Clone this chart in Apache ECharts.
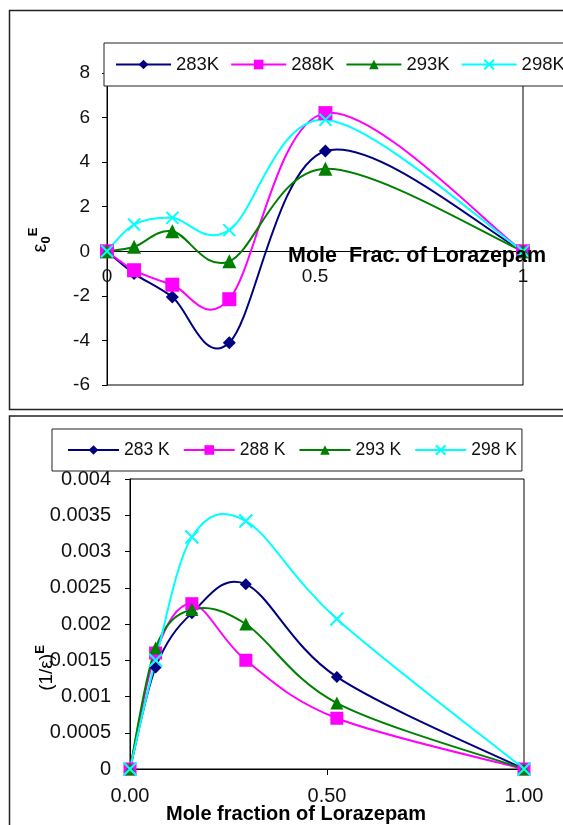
<!DOCTYPE html>
<html><head><meta charset="utf-8">
<script src="https://cdn.jsdelivr.net/npm/echarts@6/dist/echarts.min.js"></script>
<style>html,body{margin:0;padding:0;background:#fff}#c{width:563px;height:825px}</style>
</head><body><div id="c"></div>
<script>
// ---- data ----
const moleFrac = [0, 0.065, 0.157, 0.294, 0.525, 1];
const namesTop = ['283K', '288K', '293K', '298K'];
const namesBottom = ['283 K', '288 K', '293 K', '298 K'];
// top panel: excess permittivity
const eps283 = [0, -1.0, -2.05, -4.1, 4.5, 0];
const eps288 = [0, -0.85, -1.5, -2.15, 6.2, 0];
const eps293 = [0, 0.2, 0.9, -0.45, 3.7, 0];
const eps298 = [0, 1.2, 1.5, 0.95, 5.9, 0];
// bottom panel: excess inverse permittivity
const inv283 = [0, 0.0014, 0.00215, 0.00255, 0.00127, 0];
const inv288 = [0, 0.0016, 0.00228, 0.0015, 0.0007, 0];
const inv293 = [0, 0.00167, 0.0022, 0.002, 0.00091, 0];
const inv298 = [0, 0.0015, 0.0032, 0.00342, 0.00207, 0];
// tick labels
const xTickValues = [0, 0.5, 1];
const xTickLabelsTop = ['0', '0.5', '1'];
const xTickLabelsBottom = ['0.00', '0.50', '1.00'];

const FONT = "'Liberation Sans', Arial, sans-serif";
const styles = [
  {color: '#000080', symbol: 'diamond', sTop: 13, sBot: 12},
  {color: '#FF00FF', symbol: 'rect', sTop: 14, sBot: 13},
  {color: '#008000', symbol: 'triangle', sTop: 14, sBot: 13},
  {color: '#00FFFF', symbol: 'path://M0,0L10,10M10,0L0,10', sTop: 12, sBot: 13, cross: true}
];
const topVals = [eps283, eps288, eps293, eps298];
const botVals = [inv283, inv288, inv293, inv298];

// markers (line itself drawn by the smoothed curve series below)
function mkMarkers(name, vals, st, idx, size) {
  return {
    name: name, type: 'line', xAxisIndex: idx, yAxisIndex: idx, z: 3,
    data: moleFrac.map((x, i) => [x, vals[i]]),
    symbol: st.symbol, symbolSize: size,
    lineStyle: {color: st.color, width: 0},
    itemStyle: {color: st.color, borderColor: st.color, borderWidth: st.cross ? 2 : 0},
    emphasis: {disabled: true}, animation: false
  };
}
// spreadsheet-style smoothed curve through the data, mapped with api.coord
function mkCurve(name, vals, st, idx) {
  const pts = moleFrac.map((x, i) => [x, vals[i]]);
  return {
    name: name + ' curve', type: 'custom', xAxisIndex: idx, yAxisIndex: idx, z: 2,
    data: pts, encode: {x: 0, y: 1}, animation: false, silent: true,
    renderItem: function (params, api) {
      if (params.dataIndex !== 0) return null;
      const P = pts.map(p => api.coord(p));
      const n = P.length;
      let d = 'M' + P[0][0] + ' ' + P[0][1];
      for (let i = 0; i < n - 1; i++) {
        const p0 = P[Math.max(i - 1, 0)], p1 = P[i], p2 = P[i + 1], p3 = P[Math.min(i + 2, n - 1)];
        const c1 = [p1[0] + (p2[0] - p0[0]) / 6, p1[1] + (p2[1] - p0[1]) / 6];
        const c2 = [p2[0] - (p3[0] - p1[0]) / 6, p2[1] - (p3[1] - p1[1]) / 6];
        d += ' C' + c1[0] + ' ' + c1[1] + ' ' + c2[0] + ' ' + c2[1] + ' ' + p2[0] + ' ' + p2[1];
      }
      return {type: 'path', shape: {pathData: d}, style: {fill: 'none', stroke: st.color, lineWidth: 2}};
    }
  };
}
const series = [];
styles.forEach((st, k) => series.push(mkCurve(namesTop[k], topVals[k], st, 0)));
styles.forEach((st, k) => series.push(mkCurve(namesBottom[k], botVals[k], st, 1)));
styles.forEach((st, k) => series.push(mkMarkers(namesTop[k], topVals[k], st, 0, st.sTop)));
styles.forEach((st, k) => series.push(mkMarkers(namesBottom[k], botVals[k], st, 1, st.sBot)));

function tickFmt(labels) {
  return v => { const i = xTickValues.findIndex(t => Math.abs(t - v) < 1e-9); return i >= 0 ? labels[i] : String(v); };
}

const topGrid = {left: 107, top: 73, width: 416, height: 312};
const yTopMin = -6, yTopMax = 8;
const zeroOffset = -(topGrid.height * (0 - yTopMin) / (yTopMax - yTopMin));

const option = {
  animation: false,
  backgroundColor: '#fff',
  grid: [
    Object.assign({show: true, borderColor: '#000', borderWidth: 1, backgroundColor: 'transparent'}, topGrid),
    {left: 130, top: 479, width: 394, height: 290, show: true, borderColor: '#000', borderWidth: 1, backgroundColor: 'transparent'}
  ],
  xAxis: [
    {gridIndex: 0, type: 'value', min: 0, max: 1, interval: 0.5, position: 'bottom', offset: zeroOffset,
     axisLine: {onZero: false, lineStyle: {color: '#000', width: 1}},
     axisTick: {show: false}, splitLine: {show: false},
     axisLabel: {formatter: tickFmt(xTickLabelsTop), color: '#111', fontSize: 19, fontFamily: FONT, margin: 16}},
    {gridIndex: 1, type: 'value', min: 0, max: 1, interval: 0.5,
     axisLine: {onZero: false, lineStyle: {color: '#000', width: 1}},
     axisTick: {show: true, inside: false, length: 6, lineStyle: {color: '#000'}}, splitLine: {show: false},
     axisLabel: {formatter: tickFmt(xTickLabelsBottom), color: '#111', fontSize: 20, fontFamily: FONT, margin: 17}}
  ],
  yAxis: [
    {gridIndex: 0, type: 'value', min: yTopMin, max: yTopMax, interval: 2,
     axisLine: {show: true, onZero: false, lineStyle: {color: '#000', width: 1}},
     axisTick: {show: true, inside: false, length: 5, lineStyle: {color: '#000'}}, splitLine: {show: false},
     axisLabel: {color: '#111', fontSize: 19, fontFamily: FONT, margin: 17}},
    {gridIndex: 1, type: 'value', min: 0, max: 0.004, interval: 0.0005,
     axisLine: {show: true, onZero: false, lineStyle: {color: '#000', width: 1}},
     axisTick: {show: true, inside: false, length: 5, lineStyle: {color: '#000'}}, splitLine: {show: false},
     axisLabel: {color: '#111', fontSize: 20, fontFamily: FONT, margin: 19}}
  ],
  legend: [
    {data: namesTop, left: 104, top: 43, width: 470, orient: 'horizontal',
     padding: [12, 20, 12, 11], itemWidth: 55, itemHeight: 12, itemGap: 11,
     lineStyle: {width: 2},
     backgroundColor: '#fff', borderColor: '#222', borderWidth: 1, selectedMode: false, z: 10,
     textStyle: {fontSize: 18.5, color: '#111', fontFamily: FONT}},
    {data: namesBottom, left: 52, top: 429, width: 480, orient: 'horizontal',
     padding: [12, 5, 12, 15], itemWidth: 51, itemHeight: 12, itemGap: 13,
     lineStyle: {width: 2},
     backgroundColor: '#fff', borderColor: '#222', borderWidth: 1, selectedMode: false, z: 10,
     textStyle: {fontSize: 17.5, color: '#111', fontFamily: FONT}}
  ],
  graphic: [
    {type: 'rect', shape: {x: 9.5, y: 10.5, width: 620, height: 399}, style: {fill: 'none', stroke: '#222', lineWidth: 1.5}, silent: true, z: -1},
    {type: 'rect', shape: {x: 9.5, y: 416, width: 620, height: 500}, style: {fill: 'none', stroke: '#222', lineWidth: 1.5}, silent: true, z: -1},
    {type: 'text', x: 288, y: 256, z: 20, silent: true,
     style: {text: 'Mole  Frac. of Lorazepam', fontSize: 21.5, fontWeight: 'bold', fontFamily: FONT, fill: '#000', textAlign: 'left', textVerticalAlign: 'middle'}},
    {type: 'text', x: 296, y: 814, z: 20, silent: true,
     style: {text: 'Mole fraction of Lorazepam', fontSize: 20, fontWeight: 'bold', fontFamily: FONT, fill: '#000', textAlign: 'center', textVerticalAlign: 'middle'}},
    {type: 'text', x: 40, y: 240, rotation: Math.PI / 2, z: 20, silent: true,
     style: {text: '{m|ε}{sub|0}{sup|E}', textAlign: 'center', textVerticalAlign: 'middle', fill: '#000',
       rich: {m: {fontSize: 20, fontFamily: FONT, lineHeight: 26, verticalAlign: 'middle'},
              sub: {fontSize: 13, fontWeight: 'bold', fontFamily: FONT, lineHeight: 13, verticalAlign: 'bottom'},
              sup: {fontSize: 13, fontWeight: 'bold', fontFamily: FONT, lineHeight: 13, verticalAlign: 'top'}}}},
    {type: 'text', x: 47, y: 668, rotation: Math.PI / 2, z: 20, silent: true,
     style: {text: '{m|(1/ε)}{sup|E}', textAlign: 'center', textVerticalAlign: 'middle', fill: '#000',
       rich: {m: {fontSize: 19, fontFamily: FONT, lineHeight: 26, verticalAlign: 'middle'},
              sup: {fontSize: 13, fontWeight: 'bold', fontFamily: FONT, lineHeight: 13, verticalAlign: 'top'}}}}
  ],
  series: series
};
const chart = echarts.init(document.getElementById('c'), null, {renderer: 'canvas'});
chart.setOption(option);
</script></body></html>
